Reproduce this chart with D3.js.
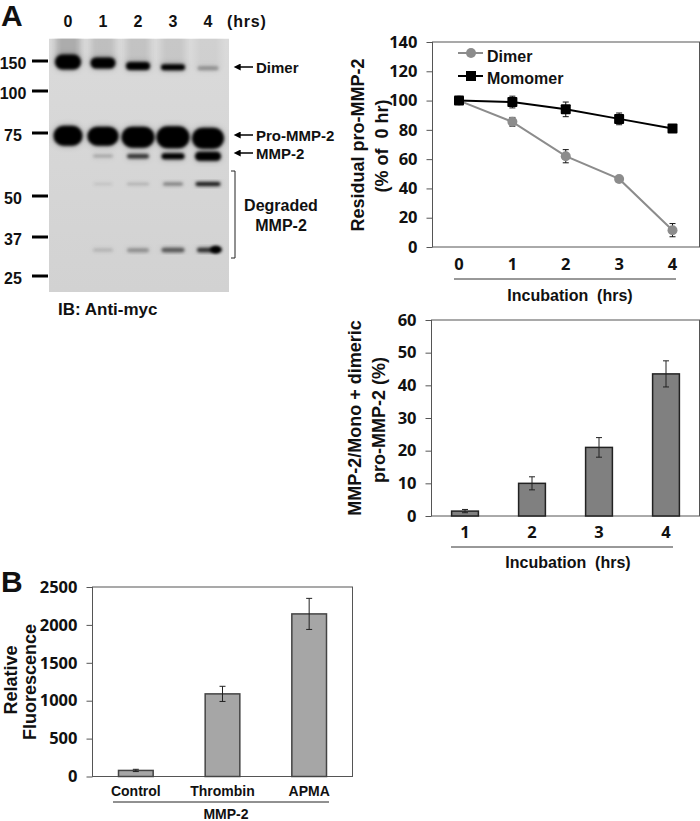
<!DOCTYPE html>
<html>
<head>
<meta charset="utf-8">
<script src="https://cdn.jsdelivr.net/npm/d3@7"></script>
<style>
  body { margin: 0; background: #fff; }
  text { font-family: "Liberation Sans", Arial, sans-serif; font-weight: bold; fill: #111; }
  .num text, text.num { font-family: "Open Sans", sans-serif; font-weight: 700; }
</style>
</head>
<body>
<div id="chart"></div>
<script>
// blot
var lanes = [0, 1, 2, 3, 4];
var ladder = [150, 100, 75, 50, 37, 25];
var smearAlpha = [0.34, 0.2, 0.17, 0.14, 0.07];
var dimerMW = [148, 146, 140, 138, 136];
var dimerW = [26, 25, 24, 24, 21];
var dimerH = [15, 11, 8, 6, 4];
var dimerAlpha = [1, 1, 1, 1, 0.3];
var proMW = [73.7, 73.5, 73, 73, 72.5];
var proW = [29, 31, 33, 33, 32];
var proH = [20, 19, 21, 22, 21];
var mmpMW = [64.7, 64.7, 64.6, 64.6, 64.6];
var mmpW = [0, 20, 22, 23, 26];
var mmpH = [0, 3, 4.5, 6, 9];
var mmpAlpha = [0, 0.22, 0.72, 1, 1];
var upperMW = [54, 54, 54, 54, 54];
var upperW = [0, 19, 22, 20, 25];
var upperH = [0, 2, 2, 3, 4];
var upperAlpha = [0, 0.1, 0.2, 0.4, 0.85];
var lowerMW = [32.5, 32.5, 32.4, 32.5, 32.5];
var lowerW = [0, 20, 22, 23, 22];
var lowerH = [0, 3, 4, 4.5, 4.5];
var lowerAlpha = [0, 0.16, 0.3, 0.55, 0.75];

// top line chart
var hours = [0, 1, 2, 3, 4];
var dimer = [100, 85.5, 62, 46.5, 11.5];
var dimerErr = [0, 3, 4.5, 1.5, 4.5];
var monomer = [100, 99, 94, 87.5, 81];
var monomerErr = [1, 4, 5, 4, 2];

// middle bars
var hours2 = [1, 2, 3, 4];
var ratio = [1.5, 10, 21, 43.5];
var ratioErr = [0.5, 2, 3, 4];

// panel B
var treatments = ["Control", "Thrombin", "APMA"];
var fluor = [80, 1090, 2145];
var fluorErr = [15, 100, 205];

var svg = d3.select("#chart").append("svg")
  .attr("width", 700)
  .attr("height", 821)
  .style("display", "block");

var defs = svg.append("defs");
defs.append("filter").attr("id", "soft")
  .attr("x", "-30%").attr("y", "-60%").attr("width", "160%").attr("height", "220%")
  .append("feGaussianBlur").attr("stdDeviation", 1.5);
defs.append("filter").attr("id", "halo")
  .attr("x", "-30%").attr("y", "-60%").attr("width", "160%").attr("height", "220%")
  .append("feGaussianBlur").attr("stdDeviation", 3);
defs.append("filter").attr("id", "smear")
  .attr("x", "-30%").attr("y", "-30%").attr("width", "160%").attr("height", "160%")
  .append("feGaussianBlur").attr("stdDeviation", 3);
var blotFill = defs.append("linearGradient").attr("id", "blotFill")
  .attr("x1", 0).attr("y1", 0).attr("x2", 0).attr("y2", 1);
blotFill.append("stop").attr("offset", 0).attr("stop-color", "#dadada");
blotFill.append("stop").attr("offset", 1).attr("stop-color", "#d2d2d2");
defs.append("clipPath").attr("id", "blotClip").append("rect")
  .attr("x", 49).attr("y", 38.5).attr("width", 180).attr("height", 253.5);
defs.append("marker").attr("id", "head")
  .attr("viewBox", "0 0 10 10").attr("refX", 1).attr("refY", 5)
  .attr("markerWidth", 8).attr("markerHeight", 7).attr("markerUnits", "userSpaceOnUse")
  .attr("orient", "auto")
  .append("path").attr("d", "M0,0L10,5L0,10Z").attr("fill", "#000");

function label(txt, x, y, size, anchor, cls) {
  return svg.append("text").attr("x", x).attr("y", y)
    .attr("font-size", size)
    .attr("text-anchor", anchor || "start")
    .attr("class", cls || null)
    .text(txt);
}

function vlabel(txt, x, y, size) {
  return svg.append("text")
    .attr("transform", "translate(" + x + "," + y + ") rotate(-90)")
    .attr("font-size", size)
    .attr("text-anchor", "middle")
    .style("white-space", "pre")
    .text(txt);
}

// ---- panel A blot
var laneX = d3.scaleLinear().domain([0, 4]).range([68, 208]);
var mwY = d3.scaleLog().domain(ladder).range([61, 91, 133, 196, 237, 276]);

var blot = svg.append("g").attr("clip-path", "url(#blotClip)");
blot.append("rect").attr("x", 49).attr("y", 38.5).attr("width", 180).attr("height", 253.5)
  .attr("fill", "url(#blotFill)");

blot.selectAll("rect.smear")
  .data(lanes)
  .enter()
  .append("rect")
  .attr("class", "smear")
  .attr("x", function(d) { return laneX(d) - 12; })
  .attr("y", 30)
  .attr("width", 24)
  .attr("height", function(d) { return mwY(dimerMW[d]) - 30; })
  .attr("fill", "#555")
  .attr("opacity", function(d) { return smearAlpha[d]; })
  .attr("filter", "url(#smear)");

function bandLayer(mw, w, h, alpha, filter, k) {
  blot.append("g").attr("filter", filter)
    .selectAll("rect")
    .data(lanes)
    .enter()
    .append("rect")
    .attr("x", function(d) { return laneX(d) - w[d] / 2; })
    .attr("y", function(d) { return mwY(mw[d]) - h[d] / 2; })
    .attr("width", function(d) { return w[d]; })
    .attr("height", function(d) { return h[d]; })
    .attr("rx", function(d) { return Math.min(w[d], h[d]) * 0.5; })
    .attr("fill", "#050505")
    .attr("opacity", function(d) { return (alpha ? alpha[d] : 1) * k; });
}

function bands(mw, w, h, alpha) {
  bandLayer(mw, w, h, alpha, "url(#halo)", 0.35);
  bandLayer(mw, w, h, alpha, "url(#soft)", 1);
}

bands(dimerMW, dimerW, dimerH, dimerAlpha);
bands(proMW, proW, proH, null);
bands(mmpMW, mmpW, mmpH, mmpAlpha);
bands(upperMW, upperW, upperH, upperAlpha);
bands(lowerMW, lowerW, lowerH, lowerAlpha);
// the hot spot at the right end of lane 4
blot.append("ellipse")
  .attr("cx", laneX(4) + 8).attr("cy", mwY(32.6))
  .attr("rx", 6).attr("ry", 3.8)
  .attr("fill", "#000").attr("filter", "url(#soft)");

svg.selectAll("line.ladder")
  .data(ladder)
  .enter()
  .append("line")
  .attr("class", "ladder")
  .attr("x1", 32).attr("x2", 48)
  .attr("y1", function(d) { return mwY(d); })
  .attr("y2", function(d) { return mwY(d); })
  .attr("stroke", "#000")
  .attr("stroke-width", 3);

svg.selectAll("text.ladderLabel")
  .data(ladder)
  .enter()
  .append("text")
  .attr("class", "ladderLabel")
  .attr("x", 13)
  .attr("y", function(d) { return mwY(d) + 8; })
  .attr("font-size", 16)
  .attr("text-anchor", "middle")
  .text(function(d) { return d; });

svg.selectAll("text.lane")
  .data(lanes)
  .enter()
  .append("text")
  .attr("class", "lane")
  .attr("x", function(d) { return laneX(d); })
  .attr("y", 27)
  .attr("font-size", 16)
  .attr("text-anchor", "middle")
  .text(function(d) { return d; });

label("A", 1, 26, 30);
label("(hrs)", 227, 27, 16).attr("letter-spacing", 0.8);
label("IB: Anti-myc", 58, 315, 17);

[["Dimer", 67, 73], ["Pro-MMP-2", 135, 141], ["MMP-2", 153, 159]].forEach(function(a) {
  svg.append("line")
    .attr("x1", 253).attr("x2", 240)
    .attr("y1", a[1]).attr("y2", a[1])
    .attr("stroke", "#000").attr("stroke-width", 1.5)
    .attr("marker-end", "url(#head)");
  label(a[0], 256, a[2], 15);
});

svg.append("path")
  .attr("d", "M231,171H235V258H231")
  .attr("fill", "none").attr("stroke", "#222").attr("stroke-width", 1);
label("Degraded", 281, 211, 16, "middle");
label("MMP-2", 281, 231, 16, "middle");

// ---- shared frame and y axis for the three charts
function frame(x, y, box, fmtTicks) {
  var g = svg.append("g");
  g.append("rect")
    .attr("x", box.left).attr("y", box.top)
    .attr("width", box.right - box.left)
    .attr("height", box.bottom - box.top)
    .attr("fill", "#fff").attr("stroke", "#555").attr("stroke-width", 1);
  var axis = g.append("g")
    .attr("class", "num")
    .attr("transform", "translate(" + box.left + ",0)")
    .call(d3.axisLeft(y).tickValues(fmtTicks).tickSize(6).tickPadding(9).tickFormat(d3.format("d")));
  axis.select(".domain").remove();
  axis.selectAll("line").attr("stroke", "#555");
  axis.selectAll("text").attr("font-size", 16.5).style("fill", "#111");
  return g;
}

function errorBars(g, xs, vals, errs, y, cap, color) {
  var keep = xs.map(function(d, i) { return i; }).filter(function(i) { return errs[i] > 0; });
  var eb = g.append("g").selectAll("g").data(keep).enter().append("g")
    .attr("stroke", color).attr("stroke-width", 1);
  eb.append("line")
    .attr("x1", function(i) { return xs[i]; }).attr("x2", function(i) { return xs[i]; })
    .attr("y1", function(i) { return y(vals[i] + errs[i]); })
    .attr("y2", function(i) { return y(vals[i] - errs[i]); });
  eb.append("line")
    .attr("x1", function(i) { return xs[i] - cap; }).attr("x2", function(i) { return xs[i] + cap; })
    .attr("y1", function(i) { return y(vals[i] + errs[i]); })
    .attr("y2", function(i) { return y(vals[i] + errs[i]); });
  eb.append("line")
    .attr("x1", function(i) { return xs[i] - cap; }).attr("x2", function(i) { return xs[i] + cap; })
    .attr("y1", function(i) { return y(vals[i] - errs[i]); })
    .attr("y2", function(i) { return y(vals[i] - errs[i]); });
}

function bars(g, xScale, cats, vals, errs, y, fill, stroke, cap) {
  g.selectAll("rect.bar")
    .data(cats)
    .enter()
    .append("rect")
    .attr("class", "bar")
    .attr("x", function(d) { return xScale(d); })
    .attr("y", function(d, i) { return y(vals[i]); })
    .attr("width", xScale.bandwidth())
    .attr("height", function(d, i) { return y(0) - y(vals[i]); })
    .attr("fill", fill)
    .attr("stroke", stroke)
    .attr("stroke-width", 1.5);
  var xs = cats.map(function(d) { return xScale(d) + xScale.bandwidth() / 2; });
  errorBars(g, xs, vals, errs, y, cap, "#222");
}

// ---- residual pro-MMP-2
var box1 = { left: 432.5, right: 699.5, top: 42, bottom: 247 };
var y1 = d3.scaleLinear().domain([0, 140]).range([box1.bottom, box1.top]);
var x1 = d3.scalePoint().domain(hours).range([459, 672.5]);
var g1 = frame(x1, y1, box1, [0, 20, 40, 60, 80, 100, 120, 140]);

var lineGen = d3.line()
  .x(function(d, i) { return x1(hours[i]); })
  .y(function(d) { return y1(d); });

var xs1 = hours.map(function(d) { return x1(d); });
errorBars(g1, xs1, dimer, dimerErr, y1, 3, "#111");
errorBars(g1, xs1, monomer, monomerErr, y1, 3, "#111");

g1.append("path").attr("d", lineGen(dimer))
  .attr("fill", "none").attr("stroke", "#8c8c8c").attr("stroke-width", 2);
g1.selectAll("circle.dimer")
  .data(dimer)
  .enter()
  .append("circle")
  .attr("class", "dimer")
  .attr("cx", function(d, i) { return x1(hours[i]); })
  .attr("cy", function(d) { return y1(d); })
  .attr("r", 5)
  .attr("fill", "#8c8c8c");
g1.append("path").attr("d", lineGen(monomer))
  .attr("fill", "none").attr("stroke", "#000").attr("stroke-width", 2);
g1.selectAll("rect.mono")
  .data(monomer)
  .enter()
  .append("rect")
  .attr("class", "mono")
  .attr("x", function(d, i) { return x1(hours[i]) - 5; })
  .attr("y", function(d) { return y1(d) - 5; })
  .attr("width", 10)
  .attr("height", 10)
  .attr("rx", 1)
  .attr("fill", "#000");

// legend
g1.append("line").attr("x1", 458).attr("x2", 483).attr("y1", 53).attr("y2", 53)
  .attr("stroke", "#8c8c8c").attr("stroke-width", 2);
g1.append("circle").attr("cx", 471).attr("cy", 53).attr("r", 5).attr("fill", "#8c8c8c");
g1.append("line").attr("x1", 458).attr("x2", 483).attr("y1", 76).attr("y2", 76)
  .attr("stroke", "#000").attr("stroke-width", 2);
g1.append("rect").attr("x", 466).attr("y", 71).attr("width", 10).attr("height", 10).attr("fill", "#000");
label("Dimer", 487, 62, 16);
label("Momomer", 487, 84, 16);

svg.selectAll("text.h1")
  .data(hours)
  .enter()
  .append("text")
  .attr("class", "h1 num")
  .attr("x", function(d) { return x1(d); })
  .attr("y", 270)
  .attr("font-size", 16.5)
  .attr("text-anchor", "middle")
  .text(function(d) { return d; });
svg.append("line").attr("x1", 454).attr("x2", 676).attr("y1", 279).attr("y2", 279).attr("stroke", "#333");
label("Incubation  (hrs)", 570, 301, 16, "middle").style("white-space", "pre");

vlabel("Residual pro-MMP-2", 364, 145, 18);
vlabel("(% of  0 hr)", 388, 146, 18);

// ---- MMP-2 ratio bars
var box2 = { left: 431.5, right: 699.5, top: 320, bottom: 516 };
var y2 = d3.scaleLinear().domain([0, 60]).range([box2.bottom, box2.top]);
var x2 = d3.scaleBand().domain(hours2).range([box2.left, box2.right]).paddingInner(0.6).paddingOuter(0.3);
var g2 = frame(x2, y2, box2, [0, 10, 20, 30, 40, 50, 60]);
bars(g2, x2, hours2, ratio, ratioErr, y2, "#808080", "#222", 3);

svg.selectAll("text.h2")
  .data(hours2)
  .enter()
  .append("text")
  .attr("class", "h2 num")
  .attr("x", function(d) { return x2(d) + x2.bandwidth() / 2; })
  .attr("y", 538)
  .attr("font-size", 16.5)
  .attr("text-anchor", "middle")
  .text(function(d) { return d; });
svg.append("line").attr("x1", 451).attr("x2", 673).attr("y1", 547).attr("y2", 547).attr("stroke", "#333");
label("Incubation  (hrs)", 568, 568, 16, "middle").style("white-space", "pre");

vlabel("MMP-2/Mono + dimeric", 361, 418, 18);
vlabel("pro-MMP-2 (%)", 385, 420, 18);

// ---- panel B
label("B", 1, 592, 30);
var box3 = { left: 92.5, right: 352.5, top: 587, bottom: 776.5 };
var y3 = d3.scaleLinear().domain([0, 2500]).range([box3.bottom, box3.top]);
var x3 = d3.scaleBand().domain(treatments).range([box3.left, box3.right]).paddingInner(0.6).paddingOuter(0.3);
var g3 = frame(x3, y3, box3, [0, 500, 1000, 1500, 2000, 2500]);
bars(g3, x3, treatments, fluor, fluorErr, y3, "#a6a6a6", "#444", 3);

svg.selectAll("text.t3")
  .data(treatments)
  .enter()
  .append("text")
  .attr("class", "t3")
  .attr("x", function(d) { return x3(d) + x3.bandwidth() / 2; })
  .attr("y", 796)
  .attr("font-size", 14)
  .attr("text-anchor", "middle")
  .text(function(d) { return d; });
svg.append("line").attr("x1", 113).attr("x2", 329).attr("y1", 802).attr("y2", 802).attr("stroke", "#222");
label("MMP-2", 226, 819, 14, "middle");

vlabel("Relative", 17, 680, 18);
vlabel("Fluorescence", 36, 682, 18);
</script>
</body>
</html>
